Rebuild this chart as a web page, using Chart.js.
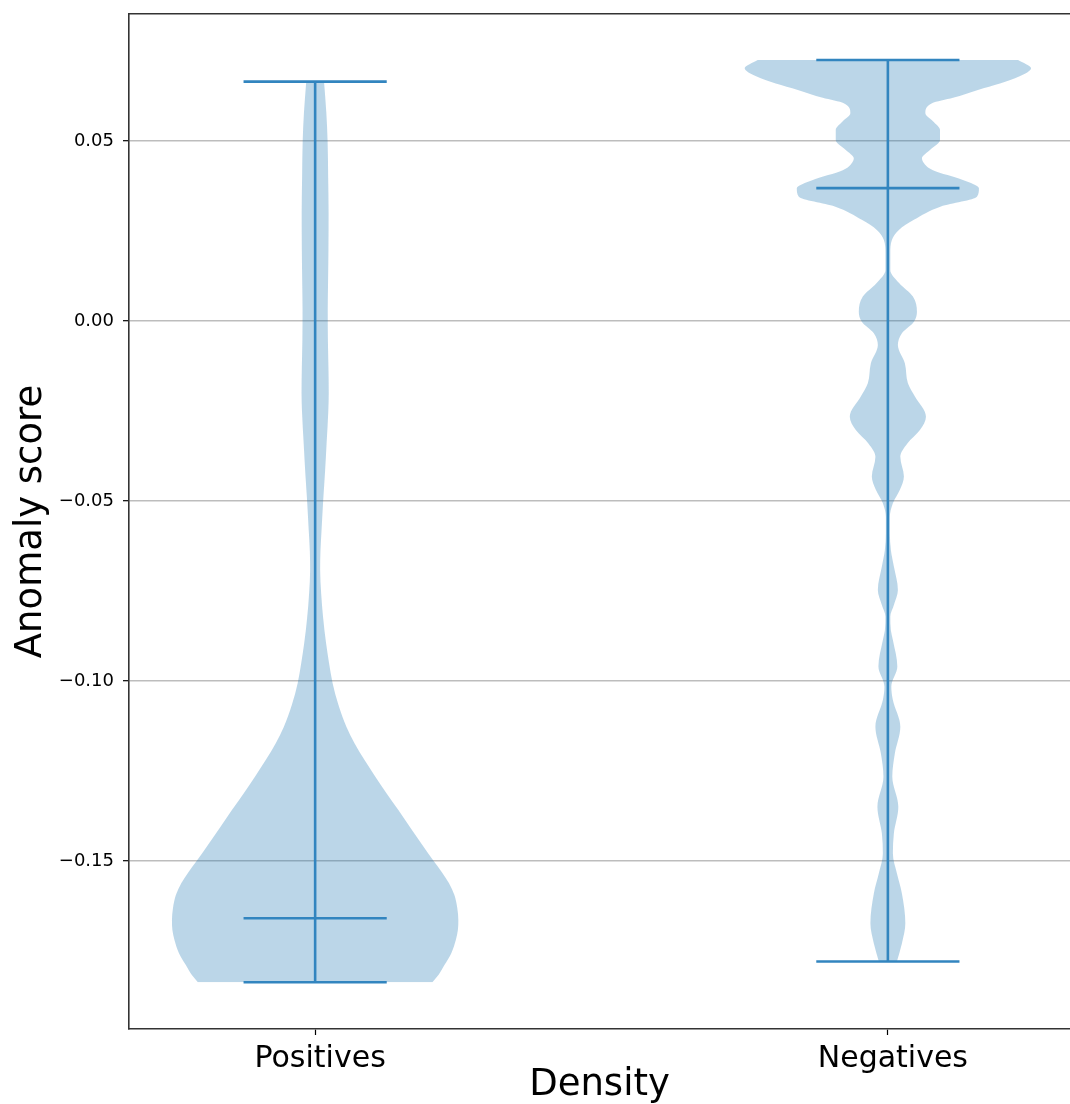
<!DOCTYPE html>
<html>
<head>
<meta charset="utf-8">
<script src="https://cdn.jsdelivr.net/npm/chart.js@4.4.1/dist/chart.umd.min.js"></script>
<style>
html,body{margin:0;padding:0;background:#fff;overflow:hidden}
#wrap{width:1070px;height:1104px;position:relative}
</style>
</head>
<body>
<div id="wrap"><canvas id="c" width="1070" height="1104"></canvas></div>
<script>
// ---- data ----
const categories = ['Positives', 'Negatives'];
const positions = [1, 2];
const yTicks = [-0.15, -0.10, -0.05, 0.00, 0.05];
const minScores = [-0.1837, -0.1779];
const maxScores = [0.0665, 0.0725];
const meanScores = [-0.1659, 0.0369];

// KDE (relative density, 1 = widest) for "Positives"
const posScores = [-0.1837, -0.1817, -0.1789, -0.1756, -0.1719, -0.1692, -0.1664, -0.1631, -0.1594, -0.1561,
  -0.1531, -0.1503, -0.1456, -0.1406, -0.1358, -0.1311, -0.1264, -0.1219, -0.1172, -0.1128,
  -0.1067, -0.1006, -0.0950, -0.0894, -0.0825, -0.0756, -0.0692, -0.0640, -0.0580, -0.0500,
  -0.0420, -0.0340, -0.0250, -0.0200, -0.0130, -0.0050, 0.0030, 0.0100, 0.0200, 0.0300,
  0.0400, 0.0500, 0.0580, 0.0665];
const posDensity = [0.819, 0.861, 0.903, 0.951, 0.983, 0.997, 1.000, 0.993, 0.972, 0.934,
  0.885, 0.833, 0.750, 0.663, 0.580, 0.497, 0.417, 0.344, 0.274, 0.219,
  0.163, 0.122, 0.097, 0.076, 0.056, 0.042, 0.035, 0.037, 0.045, 0.056,
  0.069, 0.080, 0.092, 0.095, 0.093, 0.089, 0.088, 0.090, 0.093, 0.094,
  0.091, 0.087, 0.078, 0.062];

// KDE (relative density) for "Negatives"
const negScores = [-0.1779, -0.1729, -0.1673, -0.1590, -0.1534, -0.1479, -0.1423, -0.1349, -0.1266, -0.1201,
  -0.1127, -0.1053, -0.1016, -0.0960, -0.0886, -0.0860, -0.0821, -0.0789, -0.0747, -0.0682,
  -0.0636, -0.0590, -0.0544, -0.0506, -0.0469, -0.0432, -0.0377, -0.0340, -0.0303, -0.0266,
  -0.0210, -0.0173, -0.0118, -0.0067, -0.0034, -0.0002, 0.0026, 0.0068, 0.0105, 0.0142,
  0.0189, 0.0225, 0.0253, 0.0281, 0.0318, 0.0345, 0.0369, 0.0392, 0.0419, 0.0435,
  0.0452, 0.0475, 0.0503, 0.0531, 0.0555, 0.0577, 0.0605, 0.0620, 0.0642, 0.0660,
  0.0679, 0.0702, 0.0725];
const negDensity = [0.063, 0.098, 0.122, 0.098, 0.063, 0.035, 0.042, 0.073, 0.031, 0.049,
  0.087, 0.035, 0.024, 0.066, 0.035, 0.021, 0.017, 0.042, 0.070, 0.042,
  0.021, 0.014, 0.014, 0.035, 0.084, 0.112, 0.087, 0.136, 0.224, 0.266,
  0.189, 0.140, 0.119, 0.070, 0.098, 0.182, 0.203, 0.175, 0.080, 0.017,
  0.017, 0.028, 0.077, 0.182, 0.371, 0.622, 0.636, 0.524, 0.315, 0.259,
  0.238, 0.294, 0.364, 0.364, 0.315, 0.262, 0.308, 0.455, 0.629, 0.783,
  0.916, 1.000, 0.909];

// ---- styling ----
const FONT = "'DejaVu Sans', 'Liberation Sans', sans-serif";
const HALF_WIDTH = 0.25;   // half of the violin width (x units)
const CAP_HALF = 0.125;    // half length of the extrema / mean bars
const BODY = 'rgba(31,119,180,0.3)';
const LINE = 'rgb(50,133,191)';
const LW = 2.6;

const violins = [
  {scores: posScores, density: posDensity},
  {scores: negScores, density: negDensity}
];

const datasets = [];
// line marks first (drawn on top, lower order)
positions.forEach((c, i) => {
  const base = {fill: false, borderColor: LINE, borderWidth: LW, pointRadius: 0, tension: 0,
                borderCapStyle: 'butt', order: 1};
  datasets.push(Object.assign({}, base, {data: [{x: c, y: minScores[i]}, {x: c, y: maxScores[i]}]}));
  [minScores[i], meanScores[i], maxScores[i]].forEach(v => {
    datasets.push(Object.assign({}, base, {data: [{x: c - CAP_HALF, y: v}, {x: c + CAP_HALF, y: v}]}));
  });
});
// violin bodies: left edge + right edge filled to the left edge
violins.forEach((v, i) => {
  const c = positions[i];
  const common = {borderColor: 'rgba(0,0,0,0)', borderWidth: 0, pointRadius: 0,
                  cubicInterpolationMode: 'monotone', order: 2};
  datasets.push(Object.assign({}, common, {
    data: v.scores.map((s, k) => ({x: c - v.density[k] * HALF_WIDTH, y: s})),
    fill: false
  }));
  datasets.push(Object.assign({}, common, {
    data: v.scores.map((s, k) => ({x: c + v.density[k] * HALF_WIDTH, y: s})),
    fill: '-1',
    backgroundColor: BODY
  }));
});

const fmt = v => {
  const s = Math.abs(v).toFixed(2);
  return (v < -1e-9 ? '\u2212' : '') + s;
};

new Chart(document.getElementById('c'), {
  type: 'line',
  data: {datasets},
  options: {
    indexAxis: 'y',
    responsive: false,
    animation: false,
    events: [],
    layout: {padding: 0},
    plugins: {legend: {display: false}, tooltip: {enabled: false}},
    scales: {
      x: {
        type: 'linear', position: 'bottom', min: 0.675, max: 2.318,
        afterBuildTicks: s => { s.ticks = positions.map(p => ({value: p})); },
        afterFit: s => { s.height = 75; s.paddingLeft = 0; s.paddingRight = 0; },
        ticks: {
          callback: (val) => { const i = positions.indexOf(val); return i >= 0 ? categories[i] : ''; },
          font: {family: FONT, size: 30, lineHeight: 1}, color: '#000', padding: 9,
          maxRotation: 0, autoSkip: false, labelOffset: 5
        },
        grid: {display: true, drawOnChartArea: false, drawTicks: true, tickLength: 6,
               tickColor: '#000', tickWidth: 1.2},
        border: {display: true, color: '#333', width: 1.6},
        title: {display: true, text: 'Density', color: '#000',
                font: {family: FONT, size: 37, lineHeight: 1}, padding: {top: 0, bottom: 0}}
      },
      x2: {
        type: 'linear', position: 'top', min: 0.675, max: 2.318,
        afterFit: s => { s.height = 14; s.paddingLeft = 0; s.paddingRight = 0; },
        ticks: {display: false},
        grid: {display: false},
        border: {display: true, color: '#333', width: 1.6}
      },
      y: {
        type: 'linear', position: 'left', min: -0.19667, max: 0.08528,
        afterBuildTicks: s => { s.ticks = yTicks.map(v => ({value: v})); },
        afterFit: s => { s.width = 129; s.paddingTop = 0; s.paddingBottom = 0; },
        ticks: {
          callback: v => fmt(v),
          font: {family: FONT, size: 18}, color: '#000', padding: 9
        },
        grid: {display: true, drawOnChartArea: true, color: '#bdbdbd', lineWidth: 1.4,
               drawTicks: true, tickLength: 6, tickColor: '#000', tickWidth: 1.2},
        border: {display: true, color: '#333', width: 1.6},
        title: {display: true, text: 'Anomaly score', color: '#000',
                font: {family: FONT, size: 37, lineHeight: 1}, padding: {top: 12.5, bottom: 0}}
      }
    }
  }
});
</script>
</body>
</html>
